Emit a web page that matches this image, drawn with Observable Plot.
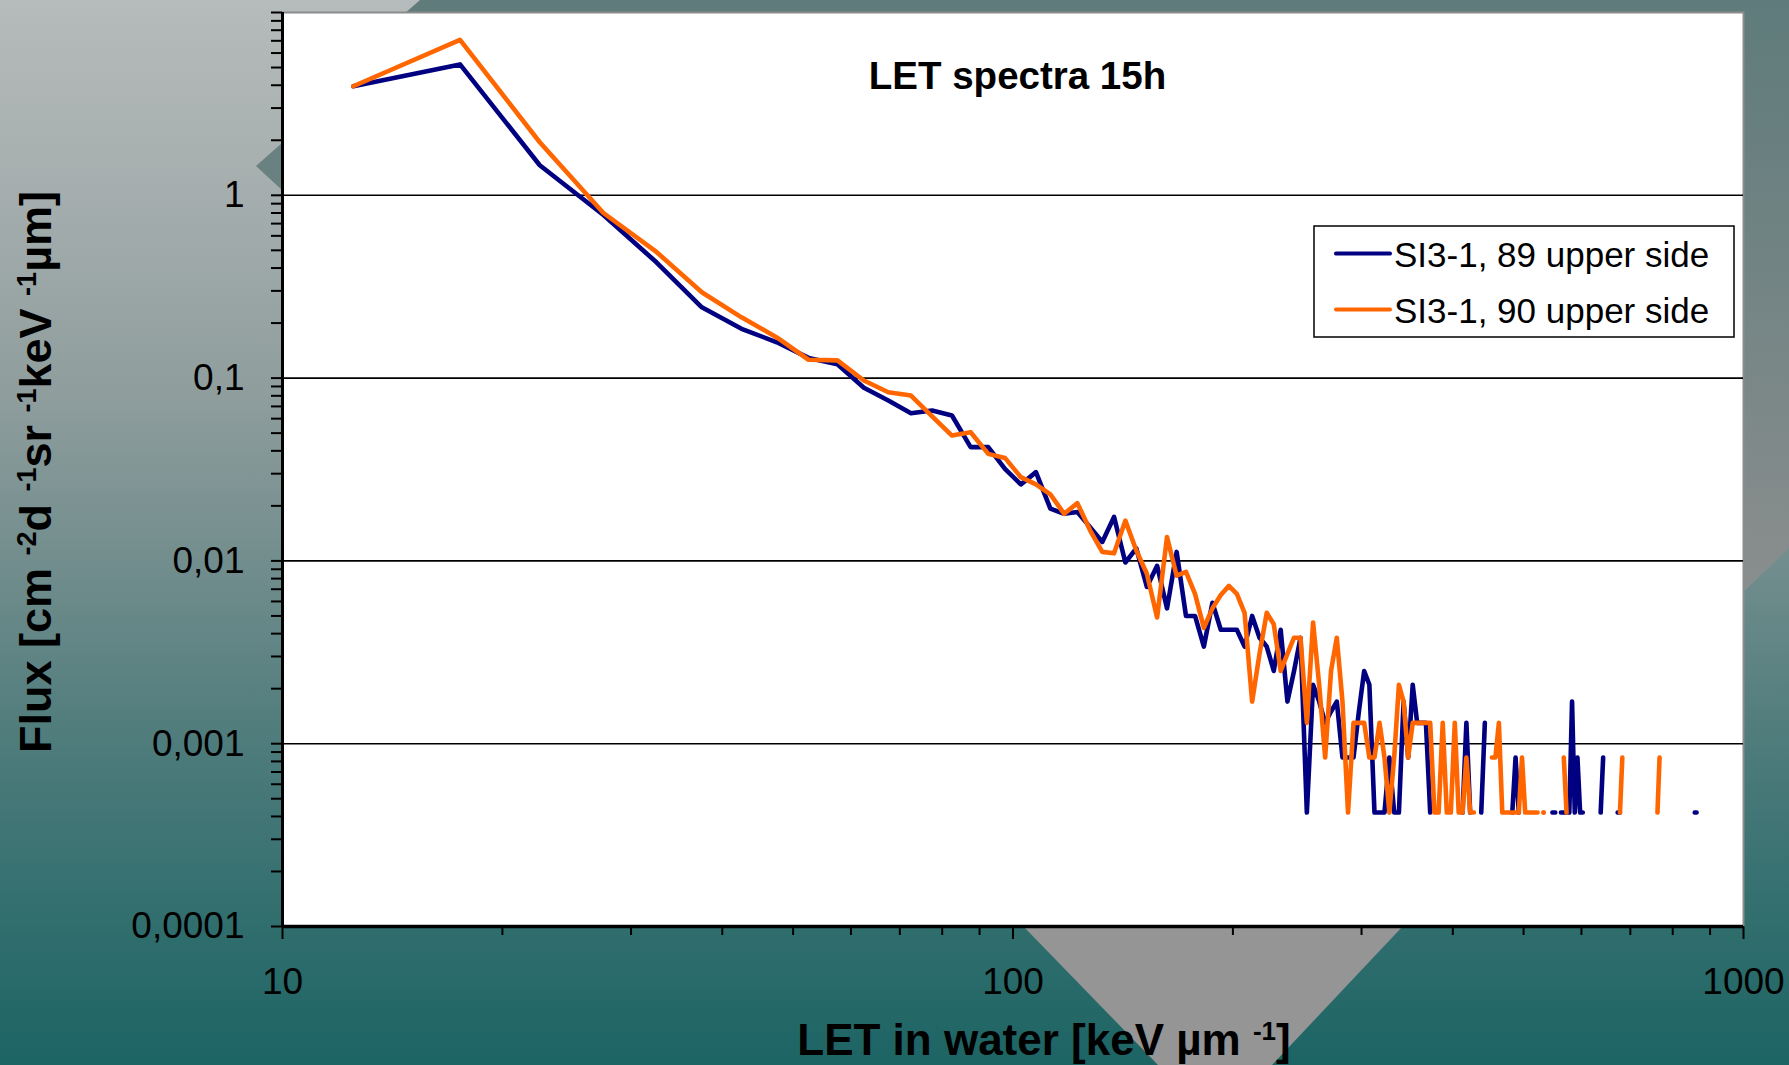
<!DOCTYPE html>
<html>
<head>
<meta charset="utf-8">
<script src="https://cdn.jsdelivr.net/npm/d3@7"></script>
<script src="https://cdn.jsdelivr.net/npm/@observablehq/plot@0.6"></script>
<style>
  html, body { margin: 0; padding: 0; }
  body { width: 1789px; height: 1065px; overflow: hidden; }
  #wrap { position: relative; width: 1789px; height: 1065px;
    background: linear-gradient(to bottom, #b6bbbb 0%, #a3acac 20%, #8f9d9d 37%, #728d8d 53%, #527d7d 68%, #357070 84%, #1d6464 100%); }
  #bg, #chart, #overlay { position: absolute; left: 0; top: 0; }
  #overlay { pointer-events: none; }
</style>
</head>
<body>
<div id="wrap">
  <svg id="bg" width="1789" height="1065"></svg>
  <div id="chart"></div>
  <svg id="overlay" width="1789" height="1065"></svg>
</div>
<script>
// ---------- data ----------
const titleText = "LET spectra 15h";
const seriesNames = ["SI3-1, 89 upper side", "SI3-1, 90 upper side"];
const seriesColors = ["#000080", "#ff6600"];

// LET bin centres [keV/µm]
const let_keV = [
  12.5, 17.5, 22.5, 27.5, 32.5, 37.5, 42.5, 47.5, 52.5, 57.5,
  62.5, 67.5, 72.5, 77.5, 82.5, 87.5, 92.5, 97.5, 102.5, 107.5,
  112.5, 117.5, 122.5, 127.5, 132.5, 137.5, 142.5, 147.5, 152.5, 157.5,
  162.5, 167.5, 172.5, 177.5, 182.5, 187.5, 192.5, 197.5, 202.5, 207.5,
  212.5, 217.5, 222.5, 227.5, 232.5, 237.5, 242.5, 247.5, 252.5, 257.5,
  262.5, 267.5, 272.5, 277.5, 282.5, 287.5, 292.5, 297.5, 302.5, 307.5,
  312.5, 317.5, 322.5, 327.5, 332.5, 337.5, 342.5, 347.5, 352.5, 357.5,
  362.5, 367.5, 372.5, 377.5, 382.5, 387.5, 392.5, 397.5, 402.5, 407.5,
  412.5, 417.5, 422.5, 427.5, 432.5, 437.5, 442.5, 447.5, 452.5, 457.5,
  462.5, 467.5, 472.5, 477.5, 482.5, 487.5, 492.5, 497.5, 502.5, 507.5,
  512.5, 517.5, 522.5, 527.5, 532.5, 537.5, 542.5, 547.5, 552.5, 557.5,
  562.5, 567.5, 572.5, 577.5, 582.5, 587.5, 592.5, 597.5, 602.5, 607.5,
  612.5, 617.5, 622.5, 627.5, 632.5, 637.5, 642.5, 647.5, 652.5, 657.5,
  662.5, 667.5, 672.5, 677.5, 682.5, 687.5, 692.5, 697.5, 702.5, 707.5,
  712.5, 717.5, 722.5, 727.5, 732.5, 737.5, 742.5, 747.5, 752.5, 757.5,
  762.5, 767.5, 772.5, 777.5, 782.5, 787.5, 792.5, 797.5, 802.5, 807.5,
  812.5, 817.5, 822.5, 827.5, 832.5, 837.5, 842.5, 847.5, 852.5, 857.5,
  862.5
];

// Flux, SI3-1 89 upper side (null = empty bin)
const flux89 = [
  3.95, 5.2, 1.46, 0.78, 0.43, 0.244, 0.186, 0.157, 0.129, 0.119,
  0.0885, 0.0754, 0.0643, 0.0665, 0.0624, 0.0419, 0.0419, 0.0319, 0.0262, 0.0306,
  0.0193, 0.0181, 0.0185, 0.0153, 0.0127, 0.0174, 0.0098, 0.0117, 0.0072, 0.0094,
  0.0055, 0.0112, 0.0050, 0.0050, 0.0034, 0.0059, 0.0042, 0.0042, 0.0042, 0.0034,
  0.0050, 0.0038, 0.0034, 0.0025, 0.0042, 0.0017, 0.0025, 0.0038, 0.00042, 0.0021,
  0.0017, 0.0013, 0.0015, 0.0017, 0.00084, 0.00084, 0.00084, 0.0015, 0.0025, 0.0021,
  0.00042, 0.00042, 0.00042, 0.00084, 0.00042, 0.00042, 0.0017, 0.00084, 0.0021, 0.0013,
  0.0013, 0.0013, 0.00042, null, null, null, null, null, null, null,
  0.00042, 0.0013, 0.00042, null, null, 0.00042, 0.0013, null, null, null,
  null, null, null, null, 0.00042, 0.00084, 0.00042, null, null, null,
  null, null, null, null, null, null, null, 0.00042, 0.00042, null,
  0.00042, 0.00042, 0.00042, 0.00042, 0.0017, 0.00042, 0.00084, 0.00042, 0.00042, null,
  null, null, null, null, null, 0.00042, 0.00084, null, null, null,
  null, null, 0.00042, 0.00042, null, null, null, null, null, null,
  null, null, null, null, null, null, null, null, null, null,
  null, null, null, null, null, null, null, null, null, null,
  null, null, null, null, null, null, null, null, null, 0.00042,
  0.00042
];

// Flux, SI3-1 90 upper side (null = empty bin)
const flux90 = [
  3.95, 7.09, 1.95, 0.80, 0.49, 0.295, 0.215, 0.167, 0.126, 0.125,
  0.097, 0.0837, 0.0803, 0.0617, 0.0485, 0.0506, 0.0385, 0.0366, 0.0287, 0.0262,
  0.0231, 0.0181, 0.0207, 0.0147, 0.0112, 0.0110, 0.0166, 0.0114, 0.0085, 0.0049,
  0.0135, 0.0083, 0.0087, 0.0066, 0.0043, 0.0055, 0.0065, 0.0073, 0.0066, 0.0052,
  0.0017, 0.0031, 0.0052, 0.0045, 0.0025, 0.0031, 0.0038, 0.0038, 0.0013, 0.0046,
  0.0021, 0.00084, 0.0025, 0.0038, 0.0017, 0.00042, 0.0013, 0.0013, 0.0013, 0.00084,
  0.00084, 0.0013, 0.00084, 0.00042, 0.00084, 0.0021, 0.0017, 0.00084, 0.0013, 0.0013,
  0.0013, 0.0013, 0.0013, 0.00042, 0.00042, 0.0013, 0.00042, 0.00042, 0.0013, 0.00042,
  0.00042, 0.00084, 0.00042, 0.00042, null, null, null, null, 0.00084, 0.00084,
  0.0013, 0.00042, 0.00042, 0.00042, 0.00042, 0.00042, 0.00042, 0.00084, 0.00042, 0.00042,
  0.00042, 0.00042, 0.00042, null, 0.00042, null, null, null, null, null,
  null, 0.00084, 0.00042, null, null, null, null, null, null, null,
  null, null, null, null, null, null, null, null, null, null,
  null, null, null, 0.00042, 0.00084, null, null, null, null, null,
  null, null, null, null, null, null, null, null, null, null,
  0.00042, 0.00084, null, null, null, null, null, null, null, null,
  null, null, null, null, null, null, null, null, null, null,
  null
];

// axes
const xMajorTicks = [10, 100, 1000];
const xMinorTicks = [20, 30, 40, 50, 60, 70, 80, 90, 200, 300, 400, 500, 600, 700, 800, 900];
const yMajorTicks = [0.0001, 0.001, 0.01, 0.1, 1];
const yMinorTicks = [
  0.0002, 0.0003, 0.0004, 0.0005, 0.0006, 0.0007, 0.0008, 0.0009,
  0.002, 0.003, 0.004, 0.005, 0.006, 0.007, 0.008, 0.009,
  0.02, 0.03, 0.04, 0.05, 0.06, 0.07, 0.08, 0.09,
  0.2, 0.3, 0.4, 0.5, 0.6, 0.7, 0.8, 0.9,
  2, 3, 4, 5, 6, 7, 8, 9, 10
];
const gridValues = [1, 0.1, 0.01, 0.001];
const xDomain = [10, 1000];
const yDomain = [0.0001, 10];

// axis labels (text, superscript?)
const yLabelParts = [["Flux [cm ", false], ["-2", true], ["d ", false], ["-1", true], ["sr ", false], ["-1", true], ["keV ", false], ["-1", true], ["µm]", false]];
const xLabelParts = [["LET in water [keV µm ", false], ["-1", true], ["]", false]];

// ---------- build ----------
const s89 = let_keV.map((x, i) => ({let: x, flux: flux89[i]}));
const s90 = let_keV.map((x, i) => ({let: x, flux: flux90[i]}));
const isolated = (arr) => arr.filter((d, i) => d.flux != null && (i === 0 || arr[i-1].flux == null) && (i === arr.length - 1 || arr[i+1].flux == null));

const font = "'Liberation Sans', Arial, sans-serif";
const commaFmt = d => String(d).replace(".", ",");

const chart = Plot.plot({
  width: 1789,
  height: 1065,
  marginLeft: 282,
  marginRight: 46,
  marginTop: 12,
  marginBottom: 139,
  style: {background: "transparent", fontFamily: font, color: "black", overflow: "visible"},
  x: {type: "log", domain: xDomain},
  y: {type: "log", domain: yDomain},
  marks: [
    Plot.frame({fill: "white", stroke: "#8c8c8c", strokeWidth: 2}),
    Plot.ruleY(gridValues, {stroke: "black", strokeWidth: 1.6}),
    Plot.line(s89, {x: "let", y: "flux", stroke: seriesColors[0], strokeWidth: 4.6, strokeLinejoin: "round", strokeLinecap: "round"}),
    Plot.dot(isolated(s89), {x: "let", y: "flux", r: 2.4, fill: seriesColors[0], stroke: null}),
    Plot.line(s90, {x: "let", y: "flux", stroke: seriesColors[1], strokeWidth: 4.6, strokeLinejoin: "round", strokeLinecap: "round"}),
    Plot.dot(isolated(s90), {x: "let", y: "flux", r: 2.4, fill: seriesColors[1], stroke: null}),
    Plot.ruleX([xDomain[0]], {stroke: "black", strokeWidth: 3}),
    Plot.ruleY([yDomain[0]], {stroke: "black", strokeWidth: 3.5}),
    Plot.axisY({ticks: yMinorTicks, tickSize: 11, strokeWidth: 2, tickFormat: () => "", label: null}),
    Plot.axisY({ticks: yMajorTicks, tickSize: 11, tickPadding: 27, strokeWidth: 2, fontSize: 37, tickFormat: commaFmt, label: null}),
    Plot.axisX({ticks: xMinorTicks, tickSize: 9, strokeWidth: 2, tickFormat: () => "", label: null}),
    Plot.axisX({ticks: xMajorTicks, tickSize: 13, tickPadding: 28, strokeWidth: 2, fontSize: 37, tickFormat: d => String(d), label: null}),
    Plot.text([titleText], {frameAnchor: "top", lineAnchor: "bottom", dy: 76.5, dx: 4.5, fontSize: 38.5, fontWeight: "bold", fill: "black"})
  ]
});
document.getElementById("chart").appendChild(chart);

// ---------- background decoration ----------
const NS = "http://www.w3.org/2000/svg";
const bg = document.getElementById("bg");
function el(parent, name, attrs) {
  const e = document.createElementNS(NS, name);
  for (const k in attrs) e.setAttribute(k, attrs[k]);
  parent.appendChild(e);
  return e;
}
const defs = el(bg, "defs", {});
const g1 = el(defs, "linearGradient", {id: "rs", x1: 0, y1: 0, x2: 0, y2: 1});
el(g1, "stop", {offset: "0%", "stop-color": "#5f7b7b"});
el(g1, "stop", {offset: "100%", "stop-color": "#8a8e8e"});
el(bg, "polygon", {points: "420,0 1789,0 1789,14 404,14", fill: "#5f7b7b"});
el(bg, "polygon", {points: "1740,0 1789,0 1789,548 1740,595", fill: "url(#rs)"});
el(bg, "polygon", {points: "282,143 256,166 282,190", fill: "#6a8181"});
el(bg, "polygon", {points: "1023,926 1403,926 1272,1065 1158,1065", fill: "#959595"});

// ---------- overlay: axis titles and legend ----------
const ov = document.getElementById("overlay");
function richText(parent, parts, attrs, size) {
  const t = el(parent, "text", Object.assign({"font-family": font, "font-weight": "bold", "font-size": size, fill: "black"}, attrs));
  let raised = false;
  for (const [str, sup] of parts) {
    const ts = el(t, "tspan", {});
    if (sup) { ts.setAttribute("font-size", Math.round(size * 0.6)); ts.setAttribute("dy", -15); raised = true; }
    else if (raised) { ts.setAttribute("dy", 15); raised = false; }
    ts.textContent = str;
  }
  return t;
}
richText(ov, yLabelParts, {"text-anchor": "middle", transform: "translate(51,472) rotate(-90)"}, 45);
richText(ov, xLabelParts, {"text-anchor": "middle", x: 1044, y: 1055}, 44);

// legend
el(ov, "rect", {x: 1314, y: 226, width: 420, height: 111, fill: "white", stroke: "black", "stroke-width": 1.5});
seriesNames.forEach((name, i) => {
  const cy = 253.5 + i * 56;
  el(ov, "line", {x1: 1336, x2: 1390, y1: cy, y2: cy, stroke: seriesColors[i], "stroke-width": 4, "stroke-linecap": "round"});
  const t = el(ov, "text", {x: 1394, y: cy + 13, "font-family": font, "font-size": 35, fill: "black"});
  t.textContent = name;
});
</script>
</body>
</html>
